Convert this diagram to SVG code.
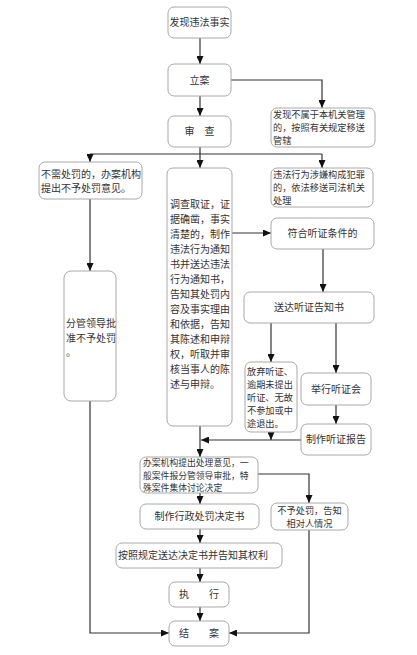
<svg xmlns="http://www.w3.org/2000/svg" width="417" height="655" viewBox="0 0 417 655">
<style>
.box{fill:#fff;stroke:#a8a8a8;stroke-width:1}
.ln{fill:none;stroke:#333;stroke-width:1.2;marker-end:url(#ah)}
.pl{fill:none;stroke:#333;stroke-width:1.2}
text{font-family:"Noto Sans CJK SC","Noto Sans",sans-serif;font-size:10px;fill:#333}
.s{font-size:9.2px}
.t{font-size:8.8px}
.c{text-anchor:middle}
</style>
<defs>
<marker id="ah" markerUnits="userSpaceOnUse" markerWidth="8" markerHeight="7" refX="8" refY="3.5" orient="auto">
<path d="M0,0 L8,3.5 L0,7 z" fill="#111"/>
</marker>
</defs>
<rect width="417" height="655" fill="#fff"/>
<g id="connectors">
<path class="ln" d="M200,38 V64"/>
<path class="ln" d="M200,96 V116"/>
<path class="ln" d="M231,80 H322 V108"/>
<path class="ln" d="M200,147 V168"/>
<path class="pl" d="M90,154 H322"/>
<path class="ln" d="M90,154 V162"/>
<path class="ln" d="M322,154 V168"/>
<path class="ln" d="M90,199 V271"/>
<path class="ln" d="M232,233 H271"/>
<path class="ln" d="M323,249 V292"/>
<path class="ln" d="M271,323 V362"/>
<path class="ln" d="M336,323 V373"/>
<path class="ln" d="M336,405 V424"/>
<path class="ln" d="M301,440 H201"/>
<path class="ln" d="M271,432 V440"/>
<path class="ln" d="M200,426 V457"/>
<path class="ln" d="M258,474 H309 V503"/>
<path class="ln" d="M200,493 V504"/>
<path class="ln" d="M200,529 V543"/>
<path class="ln" d="M200,568 V582"/>
<path class="ln" d="M200,607 V621"/>
<path class="ln" d="M90,401 V633 H169"/>
<path class="ln" d="M309,530 V633 H229"/>
</g>
<g id="n1"><rect class="box" x="168" y="7" width="63" height="31" rx="6"/><text class="c" x="199.5" y="26">发现违法事实</text></g>
<g id="n2"><rect class="box" x="168" y="64" width="63" height="32" rx="6"/><text class="c" x="199.5" y="84">立案</text></g>
<g id="n3"><rect class="box" x="271" y="108" width="104" height="39" rx="6"/><text class="s" x="273" y="118">发现不属于本机关管理</text><text class="s" x="273" y="131">的，按照有关规定移送</text><text class="s" x="273" y="144">管辖</text></g>
<g id="n4"><rect class="box" x="168" y="116" width="63" height="31" rx="6"/><text class="c" x="199.5" y="135">审　查</text></g>
<g id="n5"><rect class="box" x="39" y="162" width="103" height="37" rx="6"/><text x="41" y="178">不需处罚的，办案机构</text><text x="41" y="192">提出不予处罚意见。</text></g>
<g id="n6"><rect class="box" x="167" y="168" width="65" height="258" rx="6"/>
<text x="170" y="208">调查取证，证</text><text x="170" y="223">据确凿，事实</text><text x="170" y="238">清楚的，制作</text><text x="170" y="253">违法行为通知</text><text x="170" y="268">书并送达违法</text><text x="170" y="283">行为通知书，</text><text x="170" y="298">告知其处罚内</text><text x="170" y="313">容及事实理由</text><text x="170" y="328">和依据，告知</text><text x="170" y="343">其陈述和申辩</text><text x="170" y="358">权，听取并审</text><text x="170" y="373">核当事人的陈</text><text x="170" y="388">述与申辩。</text></g>
<g id="n7"><rect class="box" x="271" y="168" width="102" height="39" rx="6"/><text class="s" x="273" y="178">违法行为涉嫌构成犯罪</text><text class="s" x="273" y="191">的，依法移送司法机关</text><text class="s" x="273" y="204">处理</text></g>
<g id="n8"><rect class="box" x="271" y="218" width="103" height="31" rx="6"/><text class="c" x="322.5" y="237">符合听证条件的</text></g>
<g id="n9"><rect class="box" x="64" y="271" width="52" height="130" rx="7"/><text x="66" y="327">分管领导批</text><text x="66" y="342">准不予处罚</text><text x="66" y="356">。</text></g>
<g id="n10"><rect class="box" x="244" y="292" width="130" height="31" rx="6"/><text class="c" x="309" y="311">送达听证告知书</text></g>
<g id="n11"><rect class="box" x="245" y="362" width="52" height="70" rx="6"/><text class="s" x="247" y="375">放弃听证、</text><text class="s" x="247" y="388">逾期未提出</text><text class="s" x="247" y="401">听证、无故</text><text class="s" x="247" y="414">不参加或中</text><text class="s" x="247" y="427">途退出。</text></g>
<g id="n12"><rect class="box" x="301" y="373" width="70" height="32" rx="6"/><text class="c" x="336" y="393">举行听证会</text></g>
<g id="n13"><rect class="box" x="301" y="424" width="70" height="31" rx="6"/><text class="c" x="336" y="443">制作听证报告</text></g>
<g id="n14"><rect class="box" x="140" y="457" width="118" height="36" rx="6"/><text class="t" x="143" y="466">办案机构提出处理意见，一</text><text class="t" x="143" y="478.7">般案件报分管领导审批，特</text><text class="t" x="143" y="491.4">殊案件集体讨论决定</text></g>
<g id="n15"><rect class="box" x="271" y="503" width="77" height="27" rx="6"/><text class="c s" x="309.5" y="514">不予处罚，告知</text><text class="c s" x="309.5" y="527">相对人情况</text></g>
<g id="n16"><rect class="box" x="140" y="504" width="119" height="25" rx="6"/><text class="c" x="199.5" y="520">制作行政处罚决定书</text></g>
<g id="n17"><rect class="box" x="116" y="543" width="166" height="25" rx="6"/><text x="118" y="559">按照规定送达决定书并告知其权利</text></g>
<g id="n18"><rect class="box" x="169" y="582" width="60" height="25" rx="6"/><text class="c" x="199" y="598">执　　行</text></g>
<g id="n19"><rect class="box" x="169" y="621" width="60" height="25" rx="6"/><text class="c" x="199" y="637">结　　案</text></g>
</svg>
